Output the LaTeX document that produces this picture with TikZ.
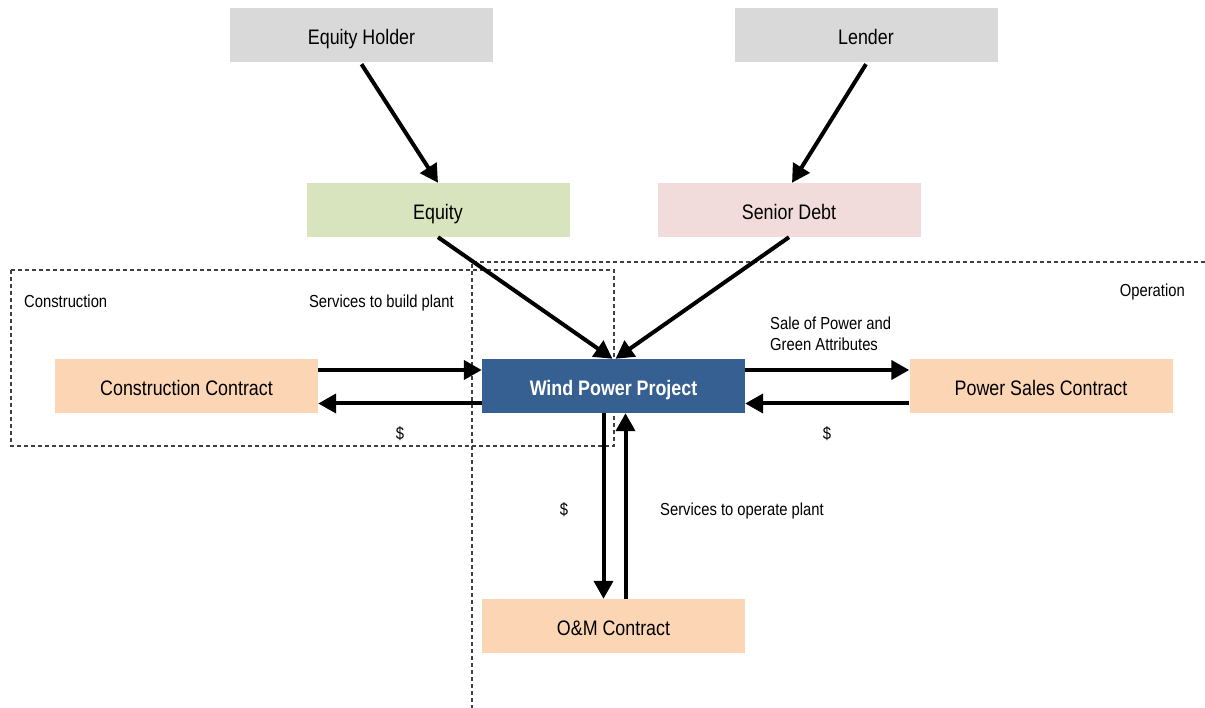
\documentclass[tikz,border=0pt]{standalone}
\usepackage{fontspec}
\setmainfont{Liberation Sans}[FakeStretch=0.85]
\usetikzlibrary{arrows.meta}
\definecolor{boxgray}{HTML}{D9D9D9}
\definecolor{boxgreen}{HTML}{D7E4BD}
\definecolor{boxpink}{HTML}{F2DCDB}
\definecolor{boxorange}{HTML}{FCD5B5}
\definecolor{boxblue}{HTML}{376092}
\definecolor{dashgray}{HTML}{404040}
\tikzset{
  x=1pt, y=-1pt,
  entity/.style={minimum width=263pt, minimum height=54pt, inner sep=0pt,
    text height=19pt, text depth=0pt, font=\fontsize{21}{25}\selectfont},
  label/.style={inner sep=0pt, text depth=0pt, font=\fontsize{17.4}{21}\selectfont},
  flow/.style={line width=4pt, -{Triangle[length=18pt,width=19pt]}},
  region/.style={draw=dashgray, line width=1.1pt, dash pattern=on 4pt off 3pt}
}
\begin{document}
\begin{tikzpicture}
\useasboundingbox (0,0) rectangle (1205,708);
% dashed regions
\draw[region] (11,270) rectangle (614,446);
\coordinate (optl) at (472,262);
\coordinate (optr) at (1205,262);
\coordinate (opbl) at (472,708);
\draw[region] (optr) -- (optl) -- (opbl);
% boxes
\node[entity, fill=boxgray] (eh) at (361.5,35) {Equity Holder};
\node[entity, fill=boxgray] (ld) at (866,35) {Lender};
\node[entity, fill=boxgreen] (eq) at (438,210) {Equity};
\node[entity, fill=boxpink] (sd) at (789,210) {Senior Debt};
\node[entity, fill=boxorange] (cc) at (186.5,386) {Construction Contract};
\node[entity, fill=boxblue, text=white, font=\fontsize{21}{25}\selectfont\bfseries] (wp) at (613.5,386) {Wind Power Project};
\node[entity, fill=boxorange] (ps) at (1041,386) {Power Sales Contract};
\node[entity, fill=boxorange] (om) at (613.5,626) {O\&M Contract};
% labels
\node[label, anchor=west] (lcon) at (24,301) {Construction};
\node[label, anchor=east] (lsbp) at (454,301) {Services to build plant};
\node[label, anchor=east] (lop) at (1185,290) {Operation};
\node[label, anchor=north west, align=left] (lsale) at (770,317) {Sale of Power and\\[0pt]Green Attributes};
\node[label] (ld1) at (400,433) {\$};
\node[label] (ld2) at (827,433) {\$};
\node[label] (ld3) at (564,509) {\$};
\node[label, anchor=west] (lsop) at (660,509) {Services to operate plant};
% arrows
\draw[flow] ([yshift=-2pt]eh.south) -- (eq.north);
\draw[flow] ([yshift=-2pt]ld.south) -- ([xshift=3pt]sd.north);
\draw[flow] (eq.south) -- ([xshift=-1pt]wp.north);
\draw[flow] (sd.south) -- ([xshift=2pt]wp.north);
\draw[flow] ([yshift=16pt]cc.east) -- ([yshift=16pt]wp.west);
\draw[flow] ([yshift=-17.5pt]wp.west) -- ([yshift=-17.5pt]cc.east);
\draw[flow] ([yshift=16pt]wp.east) -- ([yshift=16pt]ps.west);
\draw[flow] ([yshift=-17.5pt]ps.west) -- ([yshift=-17.5pt]wp.east);
\draw[flow] ([xshift=-10pt]wp.south) -- ([xshift=-10pt]om.north);
\draw[flow] ([xshift=12pt]om.north) -- ([xshift=12pt]wp.south);
\end{tikzpicture}
\end{document}
